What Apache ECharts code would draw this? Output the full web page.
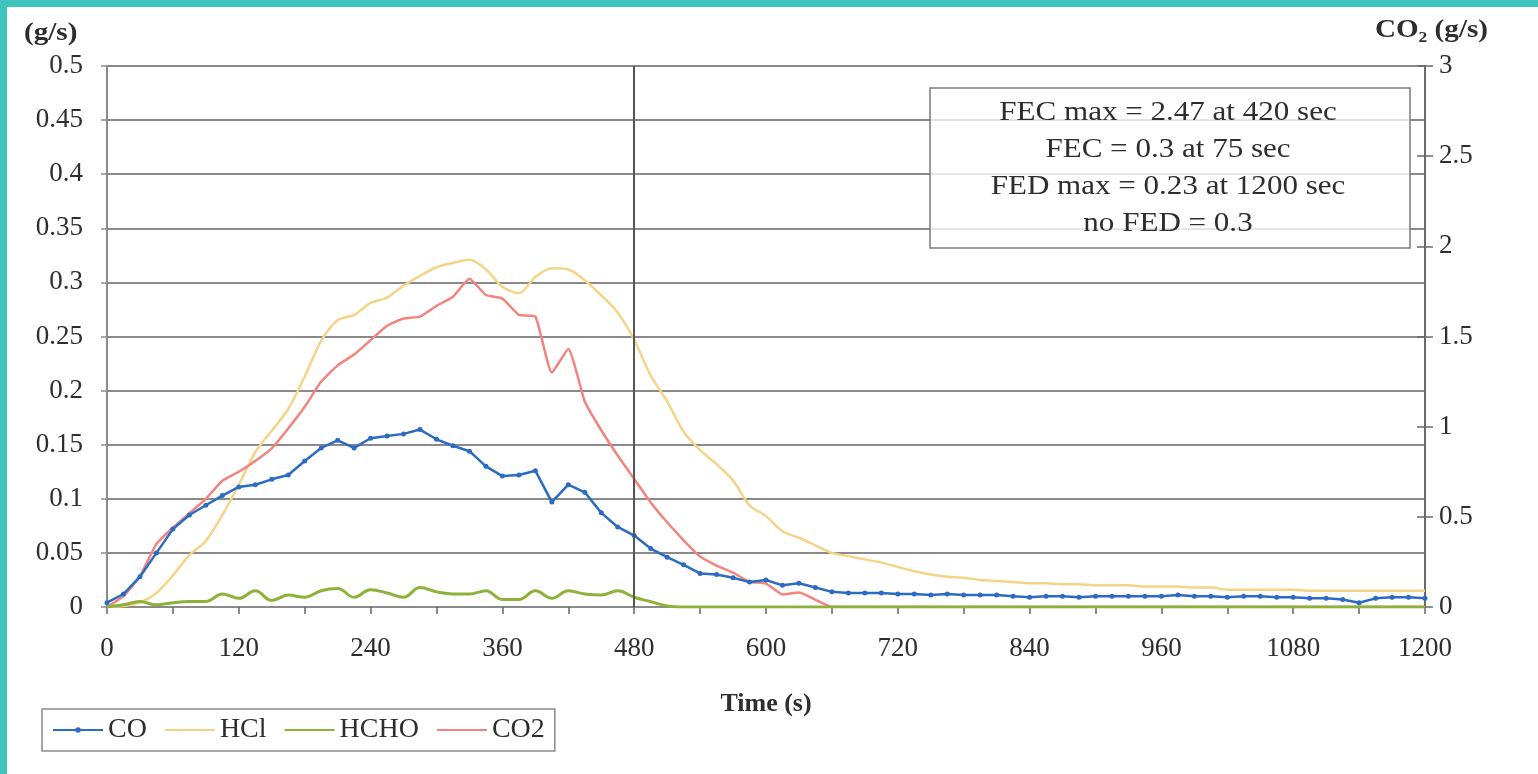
<!DOCTYPE html>
<html lang="en">
<head>
	<meta charset="UTF-8">
	<title>CO / HCl / HCHO / CO2 - Time</title>
	<script src="https://cdn.jsdelivr.net/npm/echarts@6.0.0/dist/echarts.min.js"></script>
	<style>
		html, body { margin:0; padding:0; }
		body { background:#3ec5bd; width:1538px; height:774px; overflow:hidden; position:relative; }
		#paper { position:absolute; left:7px; top:7px; width:1531px; height:767px; background:#fff; }
		#lineChart { position:absolute; left:0; top:0; width:1538px; height:774px; }
	</style>
</head>

<body>
	<div id="paper"></div>
	<div id="lineChart"></div>

	<script>
	/* data// */
	var times = [
		0, 15, 30, 45, 60, 75, 90, 105, 120, 135,
		150, 165, 180, 195, 210, 225, 240, 255, 270, 285,
		300, 315, 330, 345, 360, 375, 390, 405, 420, 435,
		450, 465, 480, 495, 510, 525, 540, 555, 570, 585,
		600, 615, 630, 645, 660, 675, 690, 705, 720, 735,
		750, 765, 780, 795, 810, 825, 840, 855, 870, 885,
		900, 915, 930, 945, 960, 975, 990, 1005, 1020, 1035,
		1050, 1065, 1080, 1095, 1110, 1125, 1140, 1155, 1170, 1185,
		1200
	];
	var xTicks = [0, 120, 240, 360, 480, 600, 720, 840, 960, 1080, 1200];
	var leftTicks = [0, 0.05, 0.1, 0.15, 0.2, 0.25, 0.3, 0.35, 0.4, 0.45, 0.5];
	var rightTicks = [0, 0.5, 1, 1.5, 2, 2.5, 3];

	// g/s, left axis
	var coData = [
		0.004, 0.012, 0.028, 0.050, 0.072, 0.085, 0.094, 0.103, 0.111, 0.113,
		0.118, 0.122, 0.135, 0.147, 0.154, 0.147, 0.156, 0.158, 0.160, 0.164,
		0.155, 0.149, 0.144, 0.130, 0.121, 0.122, 0.126, 0.097, 0.113, 0.106,
		0.087, 0.074, 0.066, 0.054, 0.046, 0.039, 0.031, 0.030, 0.027, 0.023,
		0.025, 0.020, 0.022, 0.018, 0.014, 0.013, 0.013, 0.013, 0.012, 0.012,
		0.011, 0.012, 0.011, 0.011, 0.011, 0.010, 0.009, 0.010, 0.010, 0.009,
		0.010, 0.010, 0.010, 0.010, 0.010, 0.011, 0.010, 0.010, 0.009, 0.010,
		0.010, 0.009, 0.009, 0.008, 0.008, 0.007, 0.004, 0.008, 0.009, 0.009,
		0.008
	];
	var hclData = [
		0, 0.001, 0.004, 0.013, 0.029, 0.048, 0.061, 0.085, 0.113, 0.143,
		0.163, 0.183, 0.213, 0.246, 0.265, 0.270, 0.281, 0.286, 0.297, 0.306,
		0.314, 0.318, 0.321, 0.312, 0.296, 0.290, 0.305, 0.313, 0.312, 0.302,
		0.288, 0.272, 0.247, 0.214, 0.190, 0.162, 0.145, 0.132, 0.117, 0.094,
		0.084, 0.070, 0.064, 0.057, 0.050, 0.047, 0.044, 0.041, 0.037, 0.033,
		0.030, 0.028, 0.027, 0.025, 0.024, 0.023, 0.022, 0.022, 0.021, 0.021,
		0.020, 0.020, 0.020, 0.019, 0.019, 0.019, 0.018, 0.018, 0.016, 0.016,
		0.016, 0.016, 0.016, 0.015, 0.015, 0.015, 0.015, 0.015, 0.015, 0.015,
		0.015
	];
	var hchoData = [
		0, 0.002, 0.005, 0.002, 0.004, 0.005, 0.005, 0.012, 0.008, 0.015,
		0.006, 0.011, 0.009, 0.015, 0.017, 0.009, 0.016, 0.013, 0.009, 0.018,
		0.014, 0.012, 0.012, 0.015, 0.007, 0.007, 0.015, 0.008, 0.015, 0.012,
		0.011, 0.015, 0.009, 0.005, 0.001, 0, 0, 0, 0, 0,
		0, 0, 0, 0, 0, 0, 0, 0, 0, 0,
		0, 0, 0, 0, 0, 0, 0, 0, 0, 0,
		0, 0, 0, 0, 0, 0, 0, 0, 0, 0,
		0, 0, 0, 0, 0, 0, 0, 0, 0, 0,
		0
	];
	// g/s, right axis
	var co2Data = [
		0, 0.06, 0.17, 0.35, 0.44, 0.52, 0.60, 0.70, 0.75, 0.81,
		0.88, 0.99, 1.11, 1.25, 1.34, 1.40, 1.48, 1.56, 1.60, 1.61,
		1.67, 1.72, 1.82, 1.73, 1.71, 1.62, 1.61, 1.30, 1.43, 1.14,
		0.98, 0.84, 0.71, 0.58, 0.47, 0.37, 0.28, 0.23, 0.19, 0.14,
		0.13, 0.07, 0.08, 0.04, 0, 0, 0, 0, 0, 0,
		0, 0, 0, 0, 0, 0, 0, 0, 0, 0,
		0, 0, 0, 0, 0, 0, 0, 0, 0, 0,
		0, 0, 0, 0, 0, 0, 0, 0, 0, 0,
		0
	];
	var markTime = 480;
	var noteLines = [
		'FEC max = 2.47 at 420 sec',
		'FEC = 0.3 at 75 sec',
		'FED max = 0.23 at 1200 sec',
		'no FED = 0.3'
	];
	/* //data */

	function pairs(arr) {
		return times.map(function(t, i){ return [t, arr[i]]; });
	}

	var serif = '"Liberation Serif", "DejaVu Serif", serif';
	var gridColor = '#8a8a8a';
	var textColor = '#2e2e2e';
	var noDot = { opacity: 0 };

	var lineChart = echarts.init(document.getElementById('lineChart'), null, {renderer:'canvas'});
	var option = {
		backgroundColor: 'transparent',
		animation: false,
		grid: {
			left: 107,
			right: 113,
			top: 66,
			bottom: 167
		},
		legend: {
			left: 42,
			top: 709,
			orient: 'horizontal',
			padding: [7, 10, 7, 10],
			borderColor: '#8a8a8a',
			borderWidth: 1.5,
			itemWidth: 50,
			itemHeight: 7,
			itemGap: 17,
			textStyle: {
				color: textColor,
				fontFamily: serif,
				fontSize: 28
			},
			data: [
				{ name: 'CO' },
				{ name: 'HCl', itemStyle: noDot },
				{ name: 'HCHO', itemStyle: noDot },
				{ name: 'CO2', itemStyle: noDot }
			]
		},
		xAxis: {
			type: 'value',
			min: xTicks[0],
			max: xTicks[xTicks.length - 1],
			interval: 120,
			name: 'Time (s)',
			nameLocation: 'middle',
			nameGap: 84,
			nameTextStyle: {
				color: textColor,
				fontFamily: serif,
				fontSize: 26,
				fontWeight: 'bold'
			},
			axisLine: { show: true, lineStyle: { color: gridColor, width: 2 } },
			axisTick: { show: true, length: 7, lineStyle: { color: '#666', width: 1.5 } },
			minorTick: { show: true, splitNumber: 2, length: 7, lineStyle: { color: '#666', width: 1.5 } },
			splitLine: { show: false },
			axisLabel: {
				color: textColor,
				fontFamily: serif,
				fontSize: 27,
				margin: 28,
				formatter: function(v){ return xTicks.indexOf(v) > -1 ? String(v) : ''; }
			}
		},
		yAxis: [
			{
				type: 'value',
				min: leftTicks[0],
				max: leftTicks[leftTicks.length - 1],
				interval: 0.05,
				position: 'left',
				axisLine: { show: true, lineStyle: { color: gridColor, width: 2 } },
				axisTick: { show: true, length: 6, lineStyle: { color: gridColor, width: 1.5 } },
				splitLine: { show: true, lineStyle: { color: gridColor, width: 2 } },
				axisLabel: {
					color: textColor,
					fontFamily: serif,
					fontSize: 27,
					margin: 24,
					formatter: function(v){ return String(+v.toFixed(2)); }
				}
			},
			{
				type: 'value',
				min: rightTicks[0],
				max: rightTicks[rightTicks.length - 1],
				interval: 0.5,
				position: 'right',
				axisLine: { show: true, lineStyle: { color: '#6a6a6a', width: 2 } },
				axisTick: { show: true, length: 8, lineStyle: { color: '#6a6a6a', width: 1.5 } },
				splitLine: { show: false },
				axisLabel: {
					color: textColor,
					fontFamily: serif,
					fontSize: 27,
					margin: 14,
					formatter: function(v){ return String(+v.toFixed(1)); }
				}
			},
			// 오른쪽 축 눈금 안쪽 부분 (십자 눈금)
			{
				type: 'value',
				min: rightTicks[0],
				max: rightTicks[rightTicks.length - 1],
				interval: 0.5,
				position: 'right',
				axisLine: { show: false },
				axisTick: { show: true, inside: true, length: 8, lineStyle: { color: '#6a6a6a', width: 1.5 } },
				axisLabel: { show: false },
				splitLine: { show: false }
			}
		],
		series: [
			{
				name: 'HCl',
				type: 'line',
				yAxisIndex: 0,
				symbol: 'none',
				smooth: 0.3,
				lineStyle: { color: '#f6d487', width: 2.5 },
				itemStyle: { color: '#f6d487' },
				data: pairs(hclData)
			},
			{
				name: 'CO2',
				type: 'line',
				yAxisIndex: 1,
				symbol: 'none',
				smooth: 0.15,
				lineStyle: { color: '#f2837e', width: 2.5 },
				itemStyle: { color: '#f2837e' },
				data: pairs(co2Data)
			},
			{
				name: 'HCHO',
				type: 'line',
				yAxisIndex: 0,
				symbol: 'none',
				smooth: 0.4,
				lineStyle: { color: '#8db23a', width: 3 },
				itemStyle: { color: '#8db23a' },
				data: pairs(hchoData),
				markLine: {
					silent: true,
					symbol: 'none',
					label: { show: false },
					lineStyle: { color: '#555', width: 2, type: 'solid' },
					data: [{ xAxis: markTime }]
				}
			},
			{
				name: 'CO',
				type: 'line',
				yAxisIndex: 0,
				symbol: 'circle',
				symbolSize: 5,
				showSymbol: true,
				lineStyle: { color: '#2c6bc3', width: 2.5 },
				itemStyle: { color: '#2c6bc3' },
				data: pairs(coData)
			}
		],
		graphic: [
			// 축 단위
			{
				type: 'text',
				x: 24,
				y: 20,
				scaleX: 1.12,
				style: {
					text: '(g/s)',
					fill: textColor,
					fontFamily: serif,
					fontSize: 26,
					fontWeight: 'bold'
				}
			},
			{
				type: 'text',
				x: 1488,
				y: 17,
				scaleX: 1.12,
				style: {
					text: 'CO\u2082 (g/s)',
					fill: textColor,
					fontFamily: serif,
					fontSize: 26,
					fontWeight: 'bold',
					align: 'right'
				}
			},
			// 주석 박스
			{
				type: 'rect',
				z: 100,
				shape: { x: 930, y: 88, width: 480, height: 160 },
				style: { fill: 'rgba(255,255,255,0.78)', stroke: '#7a7a7a', lineWidth: 1.5 }
			},
			{
				type: 'text',
				z: 101,
				x: 1168,
				y: 168,
				scaleX: 1.15,
				style: {
					text: noteLines.join('\n'),
					fill: textColor,
					fontFamily: serif,
					fontSize: 27,
					lineHeight: 37,
					align: 'center',
					verticalAlign: 'middle'
				}
			}
		]
	};
	lineChart.setOption(option);
	</script>
</body>
</html>
